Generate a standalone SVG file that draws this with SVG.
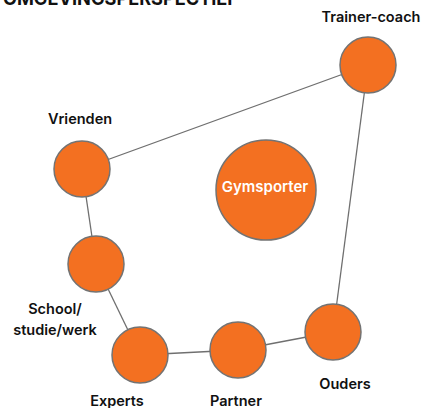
<svg xmlns="http://www.w3.org/2000/svg" width="423" height="408" viewBox="0 0 423 408">
<style>
.n{fill:#F37021;stroke:#737373;stroke-width:1.5}
.l{stroke:#6f6f6f;stroke-width:1.3;fill:none}
.t{font-family:Inter,"Liberation Sans",sans-serif;font-weight:600;font-size:14.5px;fill:#111}
.w{font-family:Inter,"Liberation Sans",sans-serif;font-weight:600;font-size:15px;fill:#fff}
</style>
<rect width="423" height="408" fill="#fff"/>
<text class="t" x="3" y="5" style="font-size:19px;font-weight:700" textLength="235" lengthAdjust="spacingAndGlyphs">OMGEVINGSPERSPECTIEF</text>
<g id="connectors">
<line class="l" x1="82" y1="169" x2="368" y2="65"/>
<line class="l" x1="368" y1="65" x2="333" y2="332"/>
<line class="l" x1="82" y1="169" x2="96" y2="264"/>
<line class="l" x1="96" y1="264" x2="140" y2="355"/>
<line class="l" x1="140" y1="355" x2="238" y2="350"/>
<line class="l" x1="238" y1="350" x2="333" y2="332"/>
</g>
<g id="gymsporter"><circle class="n" cx="266" cy="190" r="50"/><text class="w" x="265" y="192" text-anchor="middle">Gymsporter</text></g>
<g id="trainer"><circle class="n" cx="368" cy="65" r="28"/><text class="t" x="371" y="22" text-anchor="middle">Trainer-coach</text></g>
<g id="vrienden"><circle class="n" cx="82" cy="169" r="28"/><text class="t" x="80" y="124" text-anchor="middle">Vrienden</text></g>
<g id="school"><circle class="n" cx="96" cy="264" r="28"/><text class="t" x="55" y="314" text-anchor="middle">School/</text><text class="t" x="55" y="335" text-anchor="middle">studie/werk</text></g>
<g id="experts"><circle class="n" cx="140" cy="355" r="28"/><text class="t" x="117" y="406" text-anchor="middle">Experts</text></g>
<g id="partner"><circle class="n" cx="238" cy="350" r="28"/><text class="t" x="236" y="406" text-anchor="middle">Partner</text></g>
<g id="ouders"><circle class="n" cx="333" cy="332" r="28"/><text class="t" x="345" y="389" text-anchor="middle">Ouders</text></g>
</svg>
